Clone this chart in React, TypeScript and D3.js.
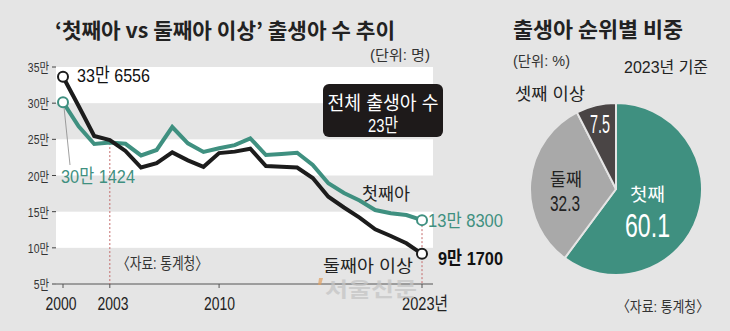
import React from "react";
import * as d3 from "d3";

const years = d3.range(2000, 2024);
const firstBirths = [30.14, 26.8, 24.36, 24.56, 24.38, 22.77, 23.53, 26.7, 24.45, 23.25, 23.76, 24.2, 25.14, 22.83, 22.97, 23.15, 21.45, 18.92, 17.58, 16.54, 15.23, 14.77, 14.54, 13.83];
const secondPlus = [33.66, 29.6, 25.46, 24.9, 23.4, 21.1, 21.7, 23.2, 22.1, 21.2, 23.1, 23.3, 23.7, 21.3, 21.2, 21.1, 19.65, 17.07, 15.58, 14.18, 12.56, 11.64, 10.63, 9.17];
const yTicks = [5, 10, 15, 20, 25, 30, 35];
const xTicks = [2000, 2003, 2010, 2023];
const xTickLabels = ["2000", "2003", "2010", "2023년"];
const whiteBands = [[30, 35], [20, 25], [10, 15]];
const pieLabels = ["첫째", "둘째", "셋째 이상"];
const pieValues = [60.1, 32.3, 7.5];

const BG = "#e5e5e5";
const TEAL = "#3f9080";
const BLACK = "#1c1c1c";
const FONT = "'Liberation Sans', Arial, 'Noto Sans CJK KR', sans-serif";
const KFONT = "'Noto Sans CJK KR', sans-serif";

type TP = {
  x: number; y: number; w: number; size: number; fill?: string; weight?: number;
  anchor?: "start" | "middle" | "end"; family?: string; children: React.ReactNode; opacity?: number;
};
function T({ x, y, w, size, fill = "#222", weight = 400, anchor = "start", family = FONT, children, opacity }: TP) {
  return (
    <text x={x} y={y} fontSize={size} fill={fill} fontWeight={weight} fontFamily={family} textAnchor={anchor}
      textLength={w} lengthAdjust="spacingAndGlyphs" opacity={opacity}>{children}</text>
  );
}

export default function App() {
  const x = d3.scaleLinear().domain([2000, 2023]).range([63, 422]);
  const y = d3.scaleLinear().domain([5, 35]).range([284, 67]);
  const line = d3.line<number>().x((_, i) => x(years[i])).y((d) => y(d));

  const pieColors = [TEAL, "#a9a9a9", "#4a4545"];
  const pie = d3.pie<number>().sort(null).value((d) => d)(pieValues);
  const R = 86;
  const arc = d3.arc<d3.PieArcDatum<number>>().innerRadius(0).outerRadius(R);
  const cx = 616, cy = 189;

  const last = years.length - 1;
  const xLabelPos = [61, 113, 219.5, 425];
  const xLabelW = [31, 31, 31, 46];

  return (
    <svg width={730} height={331} style={{ position: "absolute", left: 0, top: 0, background: BG }} fontFamily={FONT}>
      <rect x={0} y={0} width={730} height={331} fill={BG} />
      {/* title */}
      <T x={55} y={38} w={340} size={21} weight={700} family={KFONT} fill="#222">‘첫째아 vs 둘째아 이상’ 출생아 수 추이</T>
      <T x={430} y={60} w={60} size={14} anchor="end" fill="#333">(단위: 명)</T>

      {/* bands */}
      {whiteBands.map(([a, b], i) => (
        <rect key={i} x={56} y={y(b)} width={433 - 56} height={y(a) - y(b)} fill="#ffffff" />
      ))}

      {/* y ticks */}
      {yTicks.map((t) => (
        <line key={"l" + t} x1={52} x2={56} y1={y(t)} y2={y(t)} stroke="#444" strokeWidth={1} />
      ))}
      {yTicks.map((t) => (
        <text key={"t" + t} transform={`translate(49,${y(t) + 5}) scale(0.8,1)`} textAnchor="end" fontSize={13} fill="#333">{t}만</text>
      ))}

      {/* axis */}
      <line x1={56} x2={433} y1={y(5)} y2={y(5)} stroke="#555" strokeWidth={1} />
      {xTicks.map((t) => (
        <line key={"x" + t} x1={x(t)} x2={x(t)} y1={y(5)} y2={y(5) + 4} stroke="#555" strokeWidth={1} />
      ))}
      {xTicks.map((t, i) => (
        <T key={"xt" + t} x={xLabelPos[i]} y={310} w={xLabelW[i]} size={18} anchor="middle" fill="#222">{xTickLabels[i]}</T>
      ))}

      {/* dotted lines */}
      <line x1={x(2003)} x2={x(2003)} y1={y(secondPlus[3]) + 3} y2={y(5)} stroke="#c46a6a" strokeWidth={1} strokeDasharray="2,2" />
      <line x1={x(2023)} x2={x(2023)} y1={y(firstBirths[last]) + 5} y2={y(5)} stroke="#c46a6a" strokeWidth={1} strokeDasharray="2,2" />

      <T x={117} y={269} w={91} size={16} fill="#333">〈자료: 통계청〉</T>

      {/* lines */}
      <path d={line(firstBirths) || ""} fill="none" stroke={TEAL} strokeWidth={4} strokeLinejoin="miter" />
      <path d={line(secondPlus) || ""} fill="none" stroke={BLACK} strokeWidth={4} strokeLinejoin="miter" />

      {/* leader */}
      <line x1={x(2000) + 1} x2={70} y1={y(firstBirths[0]) + 5} y2={165} stroke="#888" strokeWidth={0.8} />

      {/* end circles */}
      <circle cx={x(2000)} cy={y(firstBirths[0])} r={5} fill="#fff" stroke={TEAL} strokeWidth={2} />
      <circle cx={x(2000)} cy={y(secondPlus[0])} r={5} fill="#fff" stroke={BLACK} strokeWidth={2} />
      <circle cx={x(2023)} cy={y(firstBirths[last])} r={5} fill="#fff" stroke={TEAL} strokeWidth={2} />
      <circle cx={x(2023)} cy={y(secondPlus[last])} r={5} fill="#fff" stroke={BLACK} strokeWidth={2} />

      {/* value labels */}
      <T x={77} y={82} w={73} size={19} fill="#111">33만 6556</T>
      <T x={61} y={183} w={74} size={19} fill={TEAL}>30만 1424</T>
      <T x={428} y={227} w={75} size={18} fill={TEAL}>13만 8300</T>
      <T x={438} y={265} w={65} size={19} weight={700} fill="#111">9만 1700</T>
      <T x={362} y={200} w={48} size={17} fill="#222">첫째아</T>
      <T x={323} y={272} w={90} size={17} fill="#222">둘째아 이상</T>

      {/* watermark */}
      <polygon points="319,278 323,278 321,285 318,285" fill="#e0a060" opacity={0.7} />
      <T x={325} y={297} w={92} size={20} weight={700} family={KFONT} fill="#c4c4c4" opacity={0.75}>서울신문</T>

      {/* total box */}
      <rect x={323} y={84} width={120} height={53} rx={6} fill="#1e1a1a" />
      <T x={383} y={110} w={111} size={19} anchor="middle" fill="#fff">전체 출생아 수</T>
      <T x={383} y={132} w={30} size={19} anchor="middle" fill="#fff">23만</T>

      {/* pie */}
      <T x={513} y={37} w={170} size={21} weight={700} family={KFONT} fill="#222">출생아 순위별 비중</T>
      <T x={513} y={66} w={57} size={14} fill="#333">(단위: %)</T>
      <T x={708} y={73} w={84} size={16} anchor="end" fill="#222">2023년 기준</T>
      <T x={515} y={100} w={70} size={17} fill="#222">{pieLabels[2]}</T>
      <g transform={`translate(${cx},${cy})`}>
        {pie.map((p, i) => (
          <path key={i} d={arc(p) || ""} fill={pieColors[i]} stroke={BG} strokeWidth={2} />
        ))}
      </g>
      <T x={647.5} y={201} w={35} size={18} anchor="middle" fill="#fff">{pieLabels[0]}</T>
      <T x={647.5} y={237} w={45} size={34} anchor="middle" fill="#fff">{pieValues[0]}</T>
      <T x={566} y={186} w={32} size={18} anchor="middle" fill="#222">{pieLabels[1]}</T>
      <T x={565} y={211} w={30} size={22} anchor="middle" fill="#222">{pieValues[1]}</T>
      <T x={600} y={133} w={20} size={26} anchor="middle" fill="#fff">{pieValues[2]}</T>
      <T x={709} y={312} w={92} size={15} anchor="end" fill="#333">〈자료: 통계청〉</T>
    </svg>
  );
}
